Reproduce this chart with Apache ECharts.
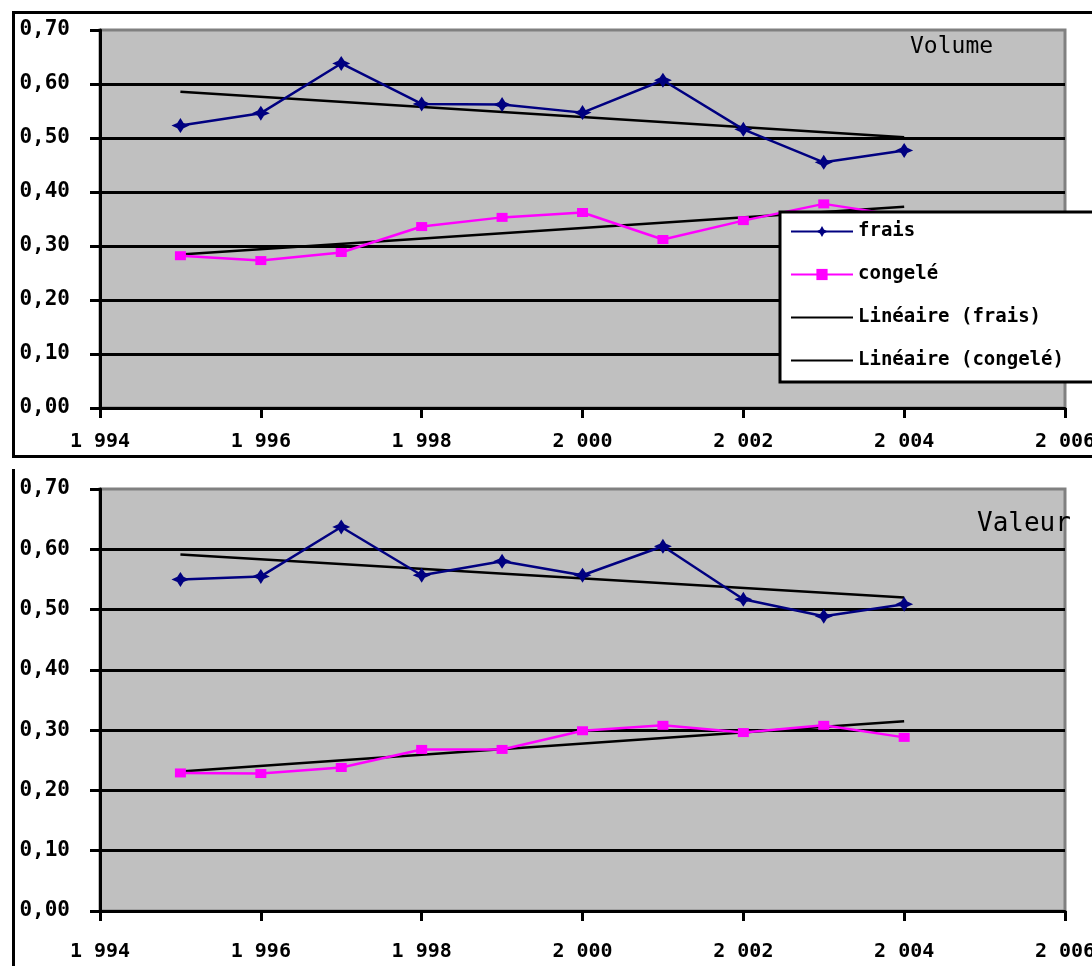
<!DOCTYPE html>
<html>
<head>
<meta charset="utf-8">
<script src="https://cdn.jsdelivr.net/npm/echarts@6/dist/echarts.min.js"></script>
<style>
  html, body { margin: 0; padding: 0; background: #fff; }
  #chart { width: 1092px; height: 966px; }
</style>
</head>
<body>
<div id="chart"></div>
<script>
// Years on the horizontal axis
const years = [1995, 1996, 1997, 1998, 1999, 2000, 2001, 2002, 2003, 2004];

// Volume panel
const volumeFrais   = [0.523, 0.546, 0.638, 0.563, 0.562, 0.547, 0.607, 0.516, 0.455, 0.477];
const volumeCongele = [0.282, 0.273, 0.288, 0.336, 0.353, 0.362, 0.312, 0.347, 0.378, 0.355];

// Valeur panel
const valeurFrais   = [0.550, 0.555, 0.637, 0.557, 0.580, 0.557, 0.605, 0.517, 0.489, 0.509];
const valeurCongele = [0.229, 0.228, 0.238, 0.268, 0.268, 0.299, 0.308, 0.296, 0.308, 0.288];

const seriesNames = ['frais', 'congelé', 'Linéaire (frais)', 'Linéaire (congelé)'];
const panelTitles = ['Volume', 'Valeur'];

const NAVY = '#000080';
const MAGENTA = '#ff00ff';
const FONT = 'DejaVu Sans Mono';

// Least-squares trend evaluated at the first and last year
function trend(xs, ys) {
  const n = xs.length;
  const mx = xs.reduce((a, b) => a + b, 0) / n;
  const my = ys.reduce((a, b) => a + b, 0) / n;
  let sxy = 0, sxx = 0;
  for (let i = 0; i < n; i++) {
    sxy += (xs[i] - mx) * (ys[i] - my);
    sxx += (xs[i] - mx) * (xs[i] - mx);
  }
  const slope = sxy / sxx;
  const x0 = xs[0], x1 = xs[n - 1];
  return [[x0, my + slope * (x0 - mx)], [x1, my + slope * (x1 - mx)]];
}

const pairs = (ys) => years.map((y, i) => [y, ys[i]]);

// Four-pointed star used for the "frais" markers
const starPath = 'path://M0,-10 L3.5,-3.5 L10,0 L3.5,3.5 L0,10 L-3.5,3.5 L-10,0 L-3.5,-3.5 Z';

const grids = [
  { left: 100, top: 30, width: 965, height: 378 },
  { left: 100, top: 489, width: 965, height: 422 }
];

function xAxisFor(gi, margin) {
  return {
    type: 'value', gridIndex: gi, min: 1994, max: 2006, interval: 2,
    axisLine: { show: true, lineStyle: { color: '#000', width: 3 } },
    axisTick: { show: true, length: 10, lineStyle: { color: '#000', width: 3 } },
    splitLine: { show: false },
    axisLabel: {
      margin: margin, color: '#000', fontFamily: FONT, fontWeight: 'bold', fontSize: 20,
      hideOverlap: false,
      formatter: v => String(v).replace(/\B(?=(\d{3})+(?!\d))/g, ' ')
    }
  };
}

function yAxisFor(gi) {
  return {
    type: 'value', gridIndex: gi, min: 0, max: 0.7, interval: 0.1,
    axisLine: { show: true, lineStyle: { color: '#000', width: 3 } },
    axisTick: { show: true, length: 10, lineStyle: { color: '#000', width: 3 } },
    splitLine: { show: true, showMaxLine: false, lineStyle: { color: '#000', width: 3 } },
    axisLabel: {
      margin: 30, color: '#000', fontFamily: FONT, fontWeight: 'bold', fontSize: 21,
      formatter: v => v.toFixed(2).replace('.', ',')
    }
  };
}

function panelSeries(gi, frais, congele) {
  return [
    {
      name: seriesNames[0], type: 'line', xAxisIndex: gi, yAxisIndex: gi,
      data: pairs(frais), symbol: starPath, symbolSize: [18, 15],
      lineStyle: { color: NAVY, width: 2.5 }, itemStyle: { color: NAVY },
      z: 4, animation: false
    },
    {
      name: seriesNames[1], type: 'line', xAxisIndex: gi, yAxisIndex: gi,
      data: pairs(congele), symbol: 'rect', symbolSize: [11, 9],
      lineStyle: { color: MAGENTA, width: 2.5 }, itemStyle: { color: MAGENTA },
      z: 3, animation: false
    },
    {
      name: seriesNames[2], type: 'line', xAxisIndex: gi, yAxisIndex: gi,
      data: trend(years, frais), symbol: 'none',
      lineStyle: { color: '#000', width: 2.5 }, itemStyle: { color: '#000' },
      z: 2, animation: false
    },
    {
      name: seriesNames[3], type: 'line', xAxisIndex: gi, yAxisIndex: gi,
      data: trend(years, congele), symbol: 'none',
      lineStyle: { color: '#000', width: 2.5 }, itemStyle: { color: '#000' },
      z: 2, animation: false
    }
  ];
}

const chart = echarts.init(document.getElementById('chart'), null, { renderer: 'canvas' });

chart.setOption({
  animation: false,
  backgroundColor: '#fff',
  grid: grids.map(g => Object.assign({
    show: true, backgroundColor: '#c0c0c0', borderColor: '#808080', borderWidth: 3,
    containLabel: false, outerBoundsMode: 'none'
  }, g)),
  title: [
    { text: panelTitles[0], left: 905, top: 31,
      textStyle: { fontFamily: FONT, fontWeight: 'normal', fontSize: 23, color: '#000' } },
    { text: panelTitles[1], left: 972, top: 506,
      textStyle: { fontFamily: FONT, fontWeight: 'normal', fontSize: 26, color: '#000' } }
  ],
  legend: {
    data: [
      { name: seriesNames[0] },
      { name: seriesNames[1] },
      { name: seriesNames[2], itemStyle: { opacity: 0 } },
      { name: seriesNames[3], itemStyle: { opacity: 0 } }
    ],
    orient: 'vertical', left: 780, top: 212,
    backgroundColor: '#fff', borderColor: '#000', borderWidth: 3, borderRadius: 0,
    padding: [10, 80, 12, 10],
    itemWidth: 62, itemHeight: 14, itemGap: 24,
    textStyle: { fontFamily: FONT, fontWeight: 'bold', fontSize: 19, color: '#000' },
    selectedMode: false
  },
  xAxis: [xAxisFor(0, 24), xAxisFor(1, 31)],
  yAxis: [yAxisFor(0), yAxisFor(1)],
  series: panelSeries(0, volumeFrais, volumeCongele).concat(panelSeries(1, valeurFrais, valeurCongele)),
  graphic: [
    { type: 'rect', silent: true, z: 100,
      shape: { x: 13.5, y: 12.5, width: 1200, height: 444 },
      style: { fill: null, stroke: '#000', lineWidth: 3 } },
    { type: 'line', silent: true, z: 100,
      shape: { x1: 13.5, y1: 469, x2: 13.5, y2: 970 },
      style: { stroke: '#000', lineWidth: 3 } }
  ]
});
</script>
</body>
</html>
